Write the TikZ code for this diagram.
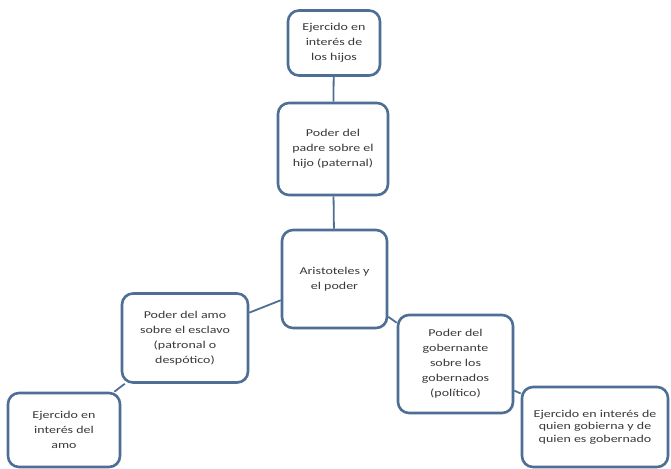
\documentclass[tikz,border=0pt]{standalone}
\usepackage{fontspec}
\setmainfont{Carlito}[FakeStretch=1.33]
\usetikzlibrary{shadows}
\definecolor{boxline}{HTML}{4F6E96}
\definecolor{txt}{HTML}{3A3A3A}
\tikzset{
  cbox/.style={draw=boxline, line width=2.6pt, rounded corners=11pt, fill=white,
    align=center, inner sep=2pt, text=txt, font=\fontsize{10.5}{15}\selectfont,
    drop shadow={opacity=0.25, shadow xshift=1.2pt, shadow yshift=-1.2pt}},
  link/.style={draw=boxline, line width=1.8pt}
}
\begin{document}
\begin{tikzpicture}[x=1pt,y=-1pt]
\useasboundingbox (0,0) rectangle (671,468);
\node[cbox, minimum width=92pt, minimum height=65pt] (b1) at (334,43) {Ejercido en\\interés de\\los hijos};
\node[cbox, minimum width=110pt, minimum height=92pt] (b2) at (333,149) {Poder del\\padre sobre el\\hijo (paternal)};
\node[cbox, minimum width=105pt, minimum height=98pt] (b3) at (334.5,279) {Aristoteles y\\el poder};
\node[cbox, minimum width=126pt, minimum height=89pt] (b4) at (185,338) {Poder del amo\\sobre el esclavo\\(patronal o\\despótico)};
\node[cbox, minimum width=115pt, minimum height=98pt] (b5) at (455.5,364) {Poder del\\gobernante\\sobre los\\gobernados\\(político)};
\node[cbox, minimum width=112pt, minimum height=74pt] (b6) at (64,430) {Ejercido en\\interés del\\amo};
\node[cbox, minimum width=146pt, minimum height=80pt, font=\fontsize{10.5}{12.5}\selectfont] (b7) at (595,427) {Ejercido en interés de\\quien gobierna y de\\quien es gobernado};
\path[link] (b1) -- (b2);
\path[link] (b2) -- (b3);
\path[link] (b3) -- (b4);
\path[link] (b3) -- (b5);
\path[link] (b4) -- (b6);
\path[link] (b5) -- (b7);
\end{tikzpicture}
\end{document}
